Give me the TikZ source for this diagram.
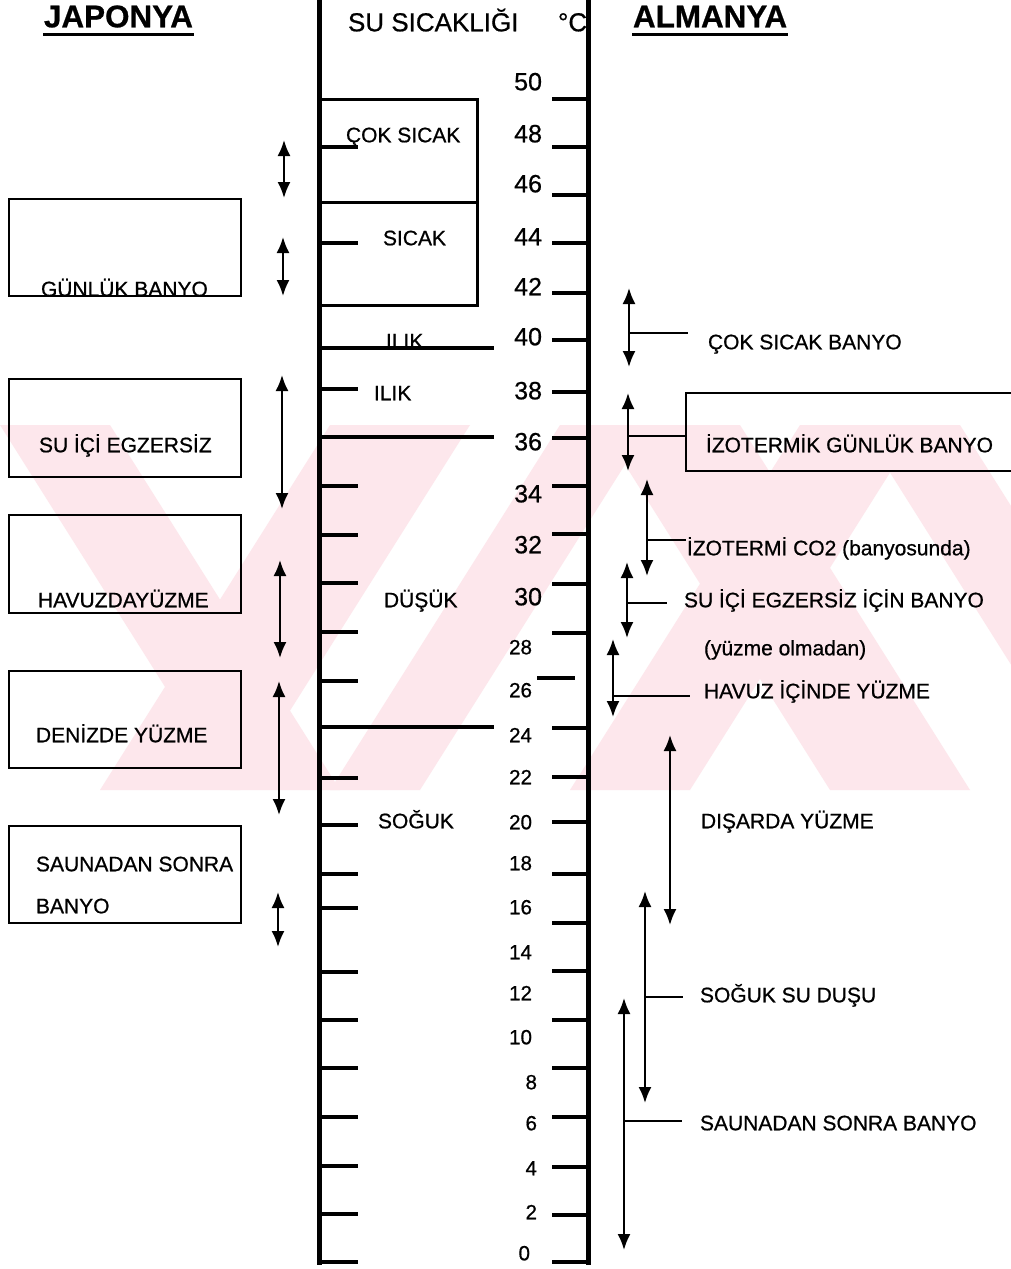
\documentclass[tikz,border=0pt]{standalone}
\usepackage{fontspec}
\setmainfont{Liberation Sans}[FakeBold=0.7]
\usetikzlibrary{arrows.meta}
\definecolor{wmpink}{RGB}{253,231,236}
\begin{document}
\begin{tikzpicture}[x=0.5pt,y=-0.5pt,>={Latex[length=8pt,width=6.5pt]},line width=1pt]
	\tikzset{every node/.style={inner sep=0pt,text height=1.38ex,text depth=0pt,font=\fontsize{10.5}{12}\selectfont},
		hdr/.style={anchor=west,font=\fontsize{15.7}{18}\selectfont\bfseries},
		lbl/.style={anchor=west},
		bnum/.style={anchor=east,font=\fontsize{12.5}{14}\selectfont},
		snum/.style={anchor=east,font=\fontsize{10.3}{12}\selectfont},
		tk/.style={line width=2pt},
		tube/.style={line width=2.5pt},
		boxline/.style={line width=0.8pt},
		leader/.style={line width=0.8pt}}
	\useasboundingbox (0,0) rectangle (1011,1269);
	\fill[white] (0,0) rectangle (1011,1269);
	\begin{scope}
		\clip (0,425) rectangle (1011,790);
		\foreach \a/\w in {0/110,600/140,860/100} \fill[wmpink] (\a,425)--(\a+\w,425)--(\a+\w+230,790)--(\a+230,790)--cycle;
		\foreach \a/\w in {470/140,650/90,920/120} \fill[wmpink] (\a,425)--(\a-\w,425)--(\a-\w-230,790)--(\a-230,790)--cycle;
	\end{scope}
	
	\draw[tube] (319,0)--(319,1265);
	\draw[tube] (588,0)--(588,1265);
	\foreach \y in {99,147,195,243,293,340,392,438,486,534,584,633,728,777,822,874,923,971,1020,1068,1117,1167,1215,1262}\draw[tk] (552,\y)--(588,\y);
	\draw[tk] (537,678)--(575,678);
	\foreach \y in {147,243,389,486,535,583,632,681,778,825,874,908,972,1020,1068,1117,1166,1214,1262}\draw[tk] (319,\y)--(358,\y);
	\draw[line width=1.5pt] (319,99) rectangle (477,305);
	\draw[line width=1.5pt] (319,202)--(477,202);
	
	\foreach \t/\y in {50/83,48/135,46/185,44/238,42/288,40/338,38/392,36/443,34/495,32/546,30/598}\node[bnum] (t\t) at (543,\y) {\t};
	\foreach \t/\y in {28/647,26/690,24/735,22/777,20/822,18/863,16/907,14/952,12/993,10/1037}\node[snum] (t\t) at (533,\y) {\t};
	\foreach \t/\y in {8/1082,6/1123,4/1168,2/1212}\node[snum] (t\t) at (538,\y) {\t};
	\node[snum] (t0) at (531,1253) {0};
	
	\node[anchor=west,font=\fontsize{13}{15}\selectfont] (ttl) at (347,24) {SU SICAKLIĞI};
	\node[anchor=west,font=\fontsize{13}{15}\selectfont] (deg) at (557,24) {°C};
	\node[lbl] (cs) at (345,135) {ÇOK SICAK};
	\node[lbl] (sc) at (382,238) {SICAK};
	\node[lbl] (il1) at (385,341) {ILIK};
	\node[lbl] (il2) at (373,393) {ILIK};
	\node[lbl] (du) at (383,600) {DÜŞÜK};
	\node[lbl] (so) at (377,821) {SOĞUK};
	\foreach \y in {348,437,727}\draw[tk] (319,\y)--(494,\y);
	
	\node[hdr] (jp) at (43,20) {JAPONYA};
	\node[hdr] (al) at (632,20) {ALMANYA};
	\foreach \n in {jp,al}\draw[line width=1.5pt] ([yshift=-3pt]\n.south west)--([yshift=-3pt]\n.south east);
	
	\foreach \a/\b in {199/296,379/477,515/613,671/768,826/923}\draw[boxline] (9,\a) rectangle (241,\b);
	\node[lbl] (l1) at (40,289) {GÜNLÜK BANYO};
	\node[lbl] (l2) at (38,445) {SU İÇİ EGZERSİZ};
	\node[lbl] (l3) at (37,600) {HAVUZDAYÜZME};
	\node[lbl] (l4) at (35,735) {DENİZDE YÜZME};
	\node[lbl] (l5) at (35,864) {SAUNADAN SONRA};
	\node[lbl] (l6) at (35,906) {BANYO};
	\foreach \x/\a/\b in {284/140/198,283/237/296,282/375/509,280/560/658,279/681/815,278/892/947}\draw[<->] (\x,\a)--(\x,\b);
	
	\draw[boxline] (1011,393)--(686,393)--(686,471)--(1011,471);
	\foreach \x/\a/\b/\m/\e in {629/288/367/333/688,628/393/471/436/686,647/479/576/540/686,627/562/638/603/667,613/639/717/696/690,645/891/1103/997/683,624/998/1250/1121/682}{
		\draw[<->] (\x,\a)--(\x,\b);
		\draw[leader] (\x,\m)--(\e,\m);
	}
	\draw[<->] (670,735)--(670,925);
	\node[lbl] (r1) at (707,342) {ÇOK SICAK BANYO};
	\node[lbl] (r2) at (705,445) {İZOTERMİK GÜNLÜK BANYO};
	\node[lbl] (r3) at (686,548) {İZOTERMİ CO2 (banyosunda)};
	\node[lbl] (r4) at (683,600) {SU İÇİ EGZERSİZ İÇİN BANYO};
	\node[lbl] (r5) at (703,648) {(yüzme olmadan)};
	\node[lbl] (r6) at (703,691) {HAVUZ İÇİNDE YÜZME};
	\node[lbl] (r7) at (700,821) {DIŞARDA YÜZME};
	\node[lbl] (r8) at (699,995) {SOĞUK SU DUŞU};
	\node[lbl] (r9) at (699,1123) {SAUNADAN SONRA BANYO};
\end{tikzpicture}
\end{document}
